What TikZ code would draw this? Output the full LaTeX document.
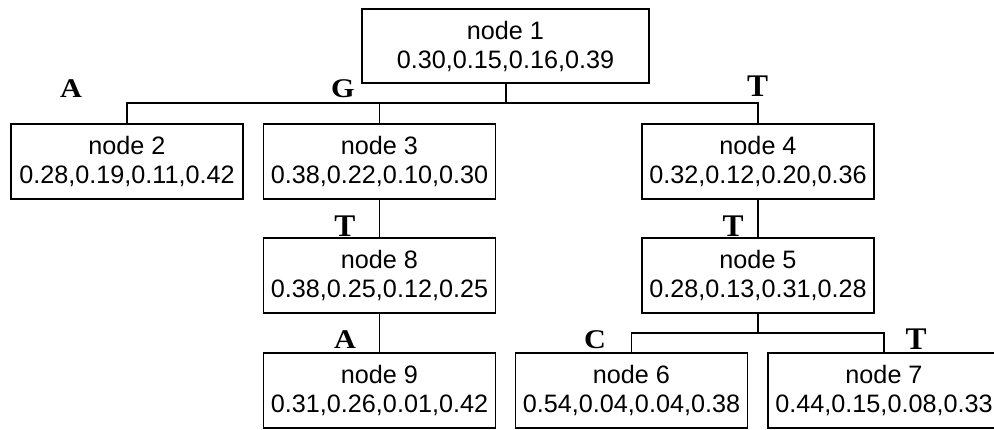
\documentclass[tikz,border=0pt]{standalone}
\usepackage{fontspec}
\setmainfont{Liberation Sans}
\newfontfamily\labelfont[FakeStretch=1.12]{Liberation Serif}
\newfontfamily\labelfontT{Liberation Serif}
\begin{document}
\begin{tikzpicture}[x=1pt,y=-1pt,
  treebox/.style={draw, line width=1.6pt, minimum width=232pt, minimum height=75pt,
    inner sep=0pt, align=center, font=\fontsize{25.2}{29}\selectfont},
  branch/.style={anchor=base, inner sep=0pt, font=\labelfont\bfseries\fontsize{27}{27}\selectfont},
  branchT/.style={anchor=base, inner sep=0pt, font=\labelfontT\bfseries\fontsize{31.5}{31.5}\selectfont},
  link/.style={line width=1.6pt}]
\useasboundingbox (0,0) rectangle (994,429);
\begin{scope}
\clip (0,0) rectangle (994,429);
% boxes
\node[treebox, minimum width=287pt, minimum height=74pt] (n1) at (505.5,46) {node 1\\0.30,0.15,0.16,0.39};
\node[treebox] (n2) at (127,161.5) {node 2\\0.28,0.19,0.11,0.42};
\node[treebox] (n3) at (379.5,161.5) {node 3\\0.38,0.22,0.10,0.30};
\node[treebox] (n4) at (758,161.5) {node 4\\0.32,0.12,0.20,0.36};
\node[treebox] (n8) at (379.5,275.5) {node 8\\0.38,0.25,0.12,0.25};
\node[treebox] (n5) at (758,275.5) {node 5\\0.28,0.13,0.31,0.28};
\node[treebox] (n9) at (379.5,390.5) {node 9\\0.31,0.26,0.01,0.42};
\node[treebox] (n6) at (631.5,390.5) {node 6\\0.54,0.04,0.04,0.38};
\node[treebox] (n7) at (884,390.5) {node 7\\0.44,0.15,0.08,0.33};
% connectors
\coordinate (j1) at (506,103);
\coordinate (j5) at (758,333);
\draw[link] (n1.south -| j1) -- (j1);
\draw[link] (n2.north) |- (j1) -| (n4.north);
\draw[link] (n3.north) -- (n3.north |- j1);
\draw[link] (n3.south) -- (n8.north);
\draw[link] (n8.south) -- (n9.north);
\draw[link] (n4.south) -- (n5.north);
\draw[link] (n5.south) -- (j5);
\draw[link] (n6.north) |- (j5) -| (n7.north);
% branch labels
\node[branch] (la) at (71,97) {A};
\node[branch] (lg) at (343,97.5) {G};
\node[branchT] (lt) at (757.5,96.5) {T};
\node[branchT] (lt8) at (345,236.5) {T};
\node[branchT] (lt5) at (733,236.5) {T};
\node[branch] (la9) at (345,348) {A};
\node[branch] (lc) at (595,348) {C};
\node[branchT] (lt7) at (916,349.5) {T};
\end{scope}
\end{tikzpicture}
\end{document}
